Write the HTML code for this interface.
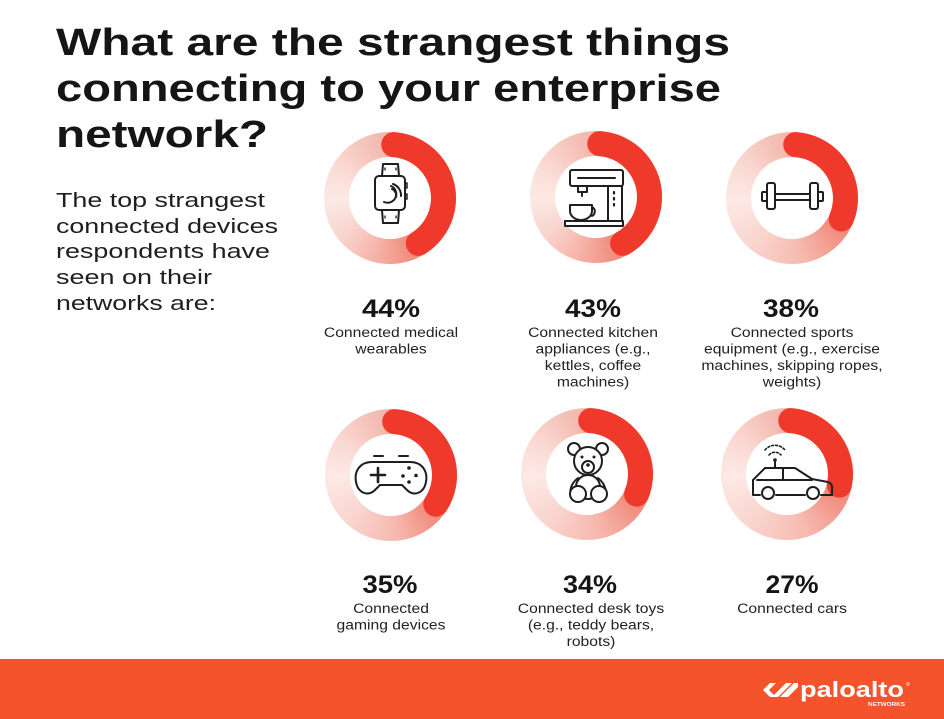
<!DOCTYPE html>
<html><head><meta charset="utf-8">
<style>
html,body{margin:0;padding:0;background:#fff;}
#wrap{position:relative;width:944px;height:719px;overflow:hidden;background:#fff;}
.d{position:absolute;width:132px;height:132px;border-radius:50%;}
svg{position:absolute;left:0;top:0;}
text{font-family:"Liberation Sans",Arial,sans-serif;}
</style></head><body>
<div id="wrap">
<div class="d" style="left:324px;top:132px;background:conic-gradient(#f3b0a6 0deg,#f3b0a6 150deg,#f08a7a 156deg,#f6b9af 200deg,#f9d3cc 230deg,#fde9e5 268deg,#fadbd5 300deg,#f4bdb3 345deg,#f3b3a9 360deg);"></div>
<div class="d" style="left:530px;top:131px;background:conic-gradient(#f3b0a6 0deg,#f3b0a6 152deg,#f08a7a 158deg,#f6b9af 202deg,#f9d3cc 232deg,#fde9e5 268deg,#fadbd5 300deg,#f4bdb3 345deg,#f3b3a9 360deg);"></div>
<div class="d" style="left:726px;top:132px;background:conic-gradient(#f3b0a6 0deg,#f3b0a6 115deg,#f08a7a 121deg,#f6b9af 170deg,#f9d3cc 215deg,#fde9e5 268deg,#fadbd5 300deg,#f4bdb3 345deg,#f3b3a9 360deg);"></div>
<div class="d" style="left:325px;top:409px;background:conic-gradient(#f3b0a6 0deg,#f3b0a6 125deg,#f08a7a 131deg,#f6b9af 175deg,#f9d3cc 218deg,#fde9e5 268deg,#fadbd5 300deg,#f4bdb3 345deg,#f3b3a9 360deg);"></div>
<div class="d" style="left:521px;top:408px;background:conic-gradient(#f3b0a6 0deg,#f3b0a6 114deg,#f08a7a 120deg,#f6b9af 170deg,#f9d3cc 215deg,#fde9e5 268deg,#fadbd5 300deg,#f4bdb3 345deg,#f3b3a9 360deg);"></div>
<div class="d" style="left:721px;top:408px;background:conic-gradient(#f3b0a6 0deg,#f3b0a6 104deg,#f08a7a 110deg,#f6b9af 160deg,#f9d3cc 212deg,#fde9e5 268deg,#fadbd5 300deg,#f4bdb3 345deg,#f3b3a9 360deg);"></div>

<svg width="944" height="719" viewBox="0 0 944 719" xmlns="http://www.w3.org/2000/svg">
<g fill="#fff">
<circle cx="390" cy="198" r="41"/>
<circle cx="596" cy="197" r="41"/>
<circle cx="792" cy="198" r="41"/>
<circle cx="391" cy="475" r="41"/>
<circle cx="587" cy="474" r="41"/>
<circle cx="787" cy="474" r="41"/>
</g>
<g fill="none" stroke="#ef3a2b" stroke-width="25" stroke-linecap="round">
<circle cx="390" cy="198" r="53.5" stroke-dasharray="134.4 400" transform="rotate(-86 390 198)"/>
<circle cx="596" cy="197" r="53.5" stroke-dasharray="136.3 400" transform="rotate(-86 596 197)"/>
<circle cx="792" cy="198" r="53.5" stroke-dasharray="101.8 400" transform="rotate(-86 792 198)"/>
<circle cx="391" cy="475" r="53.5" stroke-dasharray="111.1 400" transform="rotate(-86 391 475)"/>
<circle cx="587" cy="474" r="53.5" stroke-dasharray="100.8 400" transform="rotate(-86 587 474)"/>
<circle cx="787" cy="474" r="53.5" stroke-dasharray="91.5 400" transform="rotate(-86 787 474)"/>
</g>

<g fill="none" stroke="#1e1e1e" stroke-width="2" stroke-linejoin="round" stroke-linecap="round">
<path d="M382,176 L383,164 L398,164 L399,176"/>
<path d="M382,210 L383,223 L398,223 L399,210"/>
<rect x="375" y="176" width="30" height="34" rx="4"/>
<path d="M405,183 h2 v5 h-2 M405,194 h2 v5 h-2" stroke-width="1.5"/>
<path d="M385,168 v2 M396,168 v2 M385,216 v2 M396,216 v2" stroke-width="1.3"/>
<path d="M384,202 A8,8 0 1 0 391,186"/>
<path d="M393,184 A12,12 0 0 1 401,196"/>
<path d="M392,189 A7,7 0 0 1 396,197"/>
<rect x="570" y="170" width="53" height="16" rx="2"/>
<path d="M578,178 H615"/>
<path d="M578,186 V192 H587 V186 M582,192 V196"/>
<path d="M608,186 V221 M622,186 V221"/>
<rect x="565" y="221" width="58" height="5"/>
<path d="M570,205 H592 V211 A11,9 0 0 1 570,211 Z"/>
<path d="M592,207 A5,5 0 0 1 592,216"/>
<path d="M614,192 v1.5 M614,198 v1.5 M614,204 v1.5" stroke-width="2.2"/>
<rect x="767" y="183" width="8" height="26" rx="2"/>
<rect x="810" y="183" width="8" height="26" rx="2"/>
<rect x="762" y="192" width="5" height="9" rx="1"/>
<rect x="818" y="192" width="5" height="9" rx="1"/>
<rect x="775" y="194" width="35" height="6"/>
<path d="M372,462 H410 C422,462 428,471 426,482 C424,493 414,497 407,490 L402,485 H380 L375,490 C368,497 358,493 356,482 C354,471 360,462 372,462 Z"/>
<path d="M374,456 H383 M399,456 H408"/>
<path d="M378,468 V482 M371,475 H385" stroke-width="2.6"/>
<path d="M578,478 C570,484 568,494 573,500" />
<path d="M598,478 C606,484 608,494 603,500" />
<ellipse cx="588" cy="487" rx="12" ry="12" fill="#fff"/>
<circle cx="578" cy="494" r="8" fill="#fff"/>
<circle cx="599" cy="494" r="8" fill="#fff"/>
<circle cx="574" cy="449" r="6" fill="#fff"/>
<circle cx="602" cy="449" r="6" fill="#fff"/>
<circle cx="588" cy="461" r="14" fill="#fff"/>
<circle cx="588" cy="467" r="6" fill="#fff"/>
<path d="M753,495 V480 L765,468 H795 L812,479 L828,482 Q833,484 832,490 V495 H821 M805,495 H776 M760,495 H753"/>
<path d="M757,480 H812 M783,468 V480"/>
<circle cx="768" cy="493" r="6"/>
<circle cx="813" cy="493" r="6"/>
<path d="M775,468 V461"/>
<path d="M769,455 A8,8 0 0 1 781,455" stroke-dasharray="2 2" stroke-width="1.6"/>
<path d="M765,450 A13,13 0 0 1 785,450" stroke-dasharray="2 2" stroke-width="1.6"/>
</g>
<g fill="#1e1e1e">
<circle cx="409" cy="468" r="1.8"/><circle cx="416" cy="475.5" r="1.8"/><circle cx="403" cy="476" r="1.8"/><circle cx="409" cy="482" r="1.8"/>
<circle cx="582" cy="457" r="1.5"/><circle cx="594" cy="457" r="1.5"/><circle cx="588" cy="465" r="1.8"/>
<circle cx="775" cy="460" r="1.8"/>
</g>

<g fill="#151515" font-weight="bold" font-size="38">
<text x="56" y="55" textLength="674" lengthAdjust="spacingAndGlyphs">What are the strangest things</text>
<text x="56" y="101" textLength="665" lengthAdjust="spacingAndGlyphs">connecting to your enterprise</text>
<text x="56" y="147" textLength="212" lengthAdjust="spacingAndGlyphs">network?</text>
</g>
<g fill="#1e1e1e" font-size="20">
<text x="56" y="207" textLength="209" lengthAdjust="spacingAndGlyphs">The top strangest</text>
<text x="56" y="233" textLength="222" lengthAdjust="spacingAndGlyphs">connected devices</text>
<text x="56" y="258" textLength="214" lengthAdjust="spacingAndGlyphs">respondents have</text>
<text x="56" y="284" textLength="156" lengthAdjust="spacingAndGlyphs">seen on their</text>
<text x="56" y="310" textLength="160" lengthAdjust="spacingAndGlyphs">networks are:</text>
</g>
<g fill="#151515" font-weight="bold" font-size="25" text-anchor="middle">
<text x="391" y="317" textLength="58" lengthAdjust="spacingAndGlyphs">44%</text>
<text x="593" y="317" textLength="56" lengthAdjust="spacingAndGlyphs">43%</text>
<text x="791" y="317" textLength="56" lengthAdjust="spacingAndGlyphs">38%</text>
<text x="390" y="593" textLength="55" lengthAdjust="spacingAndGlyphs">35%</text>
<text x="590" y="593" textLength="54" lengthAdjust="spacingAndGlyphs">34%</text>
<text x="792" y="593" textLength="53" lengthAdjust="spacingAndGlyphs">27%</text>
</g>
<g fill="#222" font-size="14" text-anchor="middle">
<g transform="translate(391,0) scale(1.12,1)">
<text x="0" y="337">Connected medical</text>
<text x="0" y="353.5">wearables</text>
</g>
<g transform="translate(593,0) scale(1.12,1)">
<text x="0" y="337">Connected kitchen</text>
<text x="0" y="353.5">appliances (e.g.,</text>
<text x="0" y="370">kettles, coffee</text>
<text x="0" y="386.5">machines)</text>
</g>
<g transform="translate(792,0) scale(1.12,1)">
<text x="0" y="337">Connected sports</text>
<text x="0" y="353.5">equipment (e.g., exercise</text>
<text x="0" y="370">machines, skipping ropes,</text>
<text x="0" y="386.5">weights)</text>
</g>
<g transform="translate(391,0) scale(1.12,1)">
<text x="0" y="613">Connected</text>
<text x="0" y="629.5">gaming devices</text>
</g>
<g transform="translate(591,0) scale(1.12,1)">
<text x="0" y="613">Connected desk toys</text>
<text x="0" y="629.5">(e.g., teddy bears,</text>
<text x="0" y="646">robots)</text>
</g>
<g transform="translate(792,0) scale(1.12,1)">
<text x="0" y="613">Connected cars</text>
</g>
</g>

<rect x="0" y="659" width="944" height="60" fill="#f4532b"/>
<g fill="#fff">
<polygon points="763,690 770,683 776,683 769,690 776,697 770,697"/>
<polygon points="772,697 786,683 792,683 778,697"/>
<polygon points="780,697 794,683 798,683 798,687 788,697"/>
<text x="800" y="697" font-size="22" font-weight="bold" textLength="104" lengthAdjust="spacingAndGlyphs">paloalto</text>
<text x="906" y="686" font-size="5">®</text>
<text x="868" y="706" font-size="5" font-weight="bold" textLength="37" lengthAdjust="spacingAndGlyphs">NETWORKS</text>
</g>
</svg>
</div>
</body></html>
